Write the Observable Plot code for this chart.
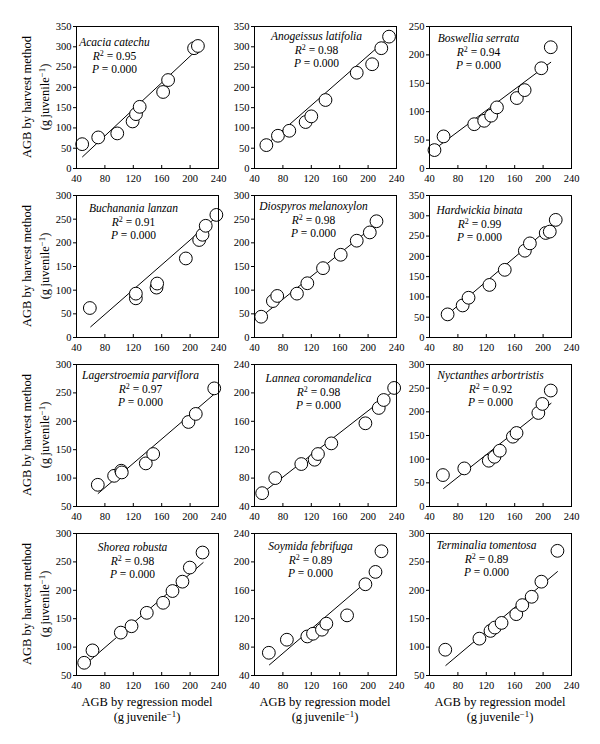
<!DOCTYPE html>
<html><head><meta charset="utf-8">
<script src="https://cdn.jsdelivr.net/npm/d3@7"></script>
<script src="https://cdn.jsdelivr.net/npm/@observablehq/plot@0.6"></script>
<style>
body{margin:0;background:#fff;}
#wrap{position:relative;width:600px;height:744px;font-family:"Liberation Serif","DejaVu Serif",serif;color:#000;overflow:hidden;}
.panel{position:absolute;}
.title{position:absolute;white-space:nowrap;font-size:12.5px;line-height:1;}
.sup{font-size:0.7em;position:relative;top:-0.45em;}
</style></head>
<body><div id="wrap"></div>
<script>
// ---- data ----
const species = ["Acacia catechu","Anogeissus latifolia","Boswellia serrata","Buchanania lanzan","Diospyros melanoxylon","Hardwickia binata","Lagerstroemia parviflora","Lannea coromandelica","Nyctanthes arbortristis","Shorea robusta","Soymida febrifuga","Terminalia tomentosa"];
const r2 = ["0.95","0.98","0.94","0.91","0.98","0.99","0.97","0.98","0.92","0.98","0.89","0.89"];
const pValue = "0.000";
// AGB by regression model (x)
const regressionModel = [
  [48,70.6,97.4,119,123.8,129,162,169,205.6,211],
  [56.7,73,89,112,120,140,184,205.7,218.6,229.5],
  [47,59.8,103,117,126.8,135,163,174,197.5,210.8],
  [58.8,123.6,123.6,152.7,153.6,194,212.8,217.5,222,237],
  [49.4,65.9,72,99.8,114.4,136.5,161.4,184,202.4,211.8],
  [65.5,86.7,95,124.4,146,174.3,181.4,203.7,209.4,217.8],
  [70,93,103,103.8,137.6,148,197.7,208,234],
  [50.8,69.2,105.9,124.7,129.4,148.2,196.2,215,222,236.7],
  [58.9,89,123.5,131.5,139,157.4,162.6,193.3,199,210.8],
  [50.8,62.5,102.4,117.5,139,162,175.2,189.2,199.6,217.5],
  [60.2,85.6,114.4,122.4,135,141.2,170.4,196.2,210.4,218.8],
  [62.2,110.3,125.9,132,141.5,162.2,170.7,183.9,197.6,220.2]
];
// AGB by harvest method (y)
const harvestMethod = [
  [60,76.6,86.5,116,134,152,188.6,218,296.5,302],
  [57.6,80.7,93,114.5,128.5,168.8,236,257,296.5,325],
  [32.4,56.5,78,84,93,107.6,124,138,176.5,213.5],
  [62.3,82.8,92.7,105.4,114,167,206,217,236,259],
  [43.9,77,87.8,92.7,114.6,146.5,174.8,204.5,222,245.6],
  [57,79,98,129.6,166.8,213.9,232,257.6,261,289.9],
  [88.2,104,113,110,125.9,142.4,198.8,213,258],
  [58.8,80,99.8,105.9,113.9,128.9,157.2,178.8,190,207],
  [66.4,80.5,96.7,105,117.9,147.5,155.3,197.6,216.7,245],
  [72.4,94.2,125.5,136.7,160.3,178,198.7,215.2,240,266.5],
  [72,90.4,95,98.8,104.5,113,124.7,168.5,185.9,215],
  [95.4,114.9,128.5,134.4,142.6,158,173.9,188.6,215.2,269.5]
];
// fitted line end points (x1, x2) and (y1, y2)
const fitX = [[48.5,208.5],[59,228.6],[47,210.8],[60,236.7],[49.4,211.8],[65.5,217.8],[70.5,236],[50.8,236.7],[59.8,211.2],[50.8,218.4],[61,200],[63,220.2]];
const fitY = [[28.8,290.7],[62,322],[34,187],[22.6,254],[43.9,240],[57,284],[73,250],[58.8,203.3],[38,218],[67.7,248.8],[55,174],[67.7,232.9]];
// axes
const xTicks = [40,80,120,160,200,240];
const yTicks = [
  [0,50,100,150,200,250,300,350],
  [0,50,100,150,200,250,300,350],
  [0,50,100,150,200,250],
  [0,50,100,150,200,250,300],
  [0,50,100,150,200,250,300],
  [0,50,100,150,200,250,300,350],
  [50,100,150,200,250,300],
  [40,80,120,160,200,240],
  [0,50,100,150,200,250,300],
  [50,100,150,200,250,300],
  [40,80,120,160,200,240],
  [50,100,150,200,250,300]
];
const yAxisTitle = "AGB by harvest method";
const xAxisTitle = "AGB by regression model";
const unitText = "(g\u2009juvenile<span class='sup'>\u22121</span>)";

// ---- layout ----
const colLeft = [76, 254, 429];
const rowTop = [26, 195, 364, 533];
const frameW = 142, frameH = 142;
const mL = 34, mR = 16, mT = 6, mB = 24;
const nameDx = [38,62,49,57,59,50,64,64,61,56,56,57];
const nameDy = [16,10,12,13,11,15,11,14,11,14,13,12];
const font = "'Liberation Serif','DejaVu Serif',serif";

const wrap = document.getElementById("wrap");

species.forEach((name, i) => {
  const col = i % 3, row = Math.floor(i / 3);
  const pts = regressionModel[i].map((x, j) => ({x, y: harvestMethod[i][j]}));
  const fit = fitX[i].map((x, j) => ({x, y: fitY[i][j]}));
  const yt = yTicks[i];
  const svg = Plot.plot({
    width: frameW + mL + mR,
    height: frameH + mT + mB,
    marginLeft: mL, marginRight: mR, marginTop: mT, marginBottom: mB,
    style: {fontFamily: font, fontSize: "10.5px", background: "transparent", overflow: "visible", color: "#000"},
    x: {domain: [40, 240]},
    y: {domain: [yt[0], yt[yt.length - 1]]},
    marks: [
      Plot.axisX({ticks: xTicks, tickSize: 0, tickPadding: 6, label: null, tickFormat: d => d}),
      Plot.axisY({ticks: yt, tickSize: 3, tickPadding: 2, label: null, tickFormat: d => d}),
      Plot.ruleX(xTicks.slice(1, -1), {insetTop: frameH - 3, stroke: "#000"}),
      Plot.line(fit, {x: "x", y: "y", stroke: "#000", strokeWidth: 1}),
      Plot.dot(pts, {x: "x", y: "y", r: 6.4, fill: "white", stroke: "#000", strokeWidth: 1}),
      Plot.frame({stroke: "#000", strokeWidth: 1}),
      Plot.text([name], {frameAnchor: "top-left", dx: nameDx[i], dy: nameDy[i], textAnchor: "middle", lineAnchor: "middle", fontStyle: "italic", fontSize: 11.5, fill: "#000"}),
      Plot.text([`R\u00b2 = ${r2[i]}`], {frameAnchor: "top-left", dx: nameDx[i], dy: nameDy[i] + 13.5, textAnchor: "middle", lineAnchor: "middle", fontSize: 11.5, fill: "#000"}),
      Plot.text([`P = ${pValue}`], {frameAnchor: "top-left", dx: nameDx[i], dy: nameDy[i] + 26.5, textAnchor: "middle", lineAnchor: "middle", fontSize: 11.5, fill: "#000"})
    ]
  });
  // italic R / P and superscript 2
  svg.querySelectorAll("text").forEach(t => {
    const s = t.textContent;
    const m = s.match(/^R\u00b2 = (.*)$/);
    const p = s.match(/^P = (.*)$/);
    const ns = "http://www.w3.org/2000/svg";
    if (m) {
      t.textContent = "";
      const a = document.createElementNS(ns, "tspan"); a.setAttribute("font-style", "italic"); a.textContent = "R";
      const b = document.createElementNS(ns, "tspan"); b.setAttribute("font-size", "8"); b.setAttribute("dy", "-4"); b.textContent = "2";
      const c = document.createElementNS(ns, "tspan"); c.setAttribute("dy", "4"); c.textContent = " = " + m[1];
      t.append(a, b, c);
    } else if (p) {
      t.textContent = "";
      const a = document.createElementNS(ns, "tspan"); a.setAttribute("font-style", "italic"); a.textContent = "P";
      const c = document.createElementNS(ns, "tspan"); c.textContent = " = " + p[1];
      t.append(a, c);
    }
  });
  svg.classList.add("panel");
  svg.style.left = (colLeft[col] - mL) + "px";
  svg.style.top = (rowTop[row] - mT) + "px";
  wrap.appendChild(svg);
});

// y axis titles (one per row)
rowTop.forEach(top => {
  const cy = top + frameH / 2;
  [[yAxisTitle, 27], [unitText, 45]].forEach(([txt, cx]) => {
    const d = document.createElement("div");
    d.className = "title";
    d.innerHTML = txt;
    d.style.left = cx + "px";
    d.style.top = cy + "px";
    d.style.transform = "translate(-50%,-50%) rotate(-90deg)";
    wrap.appendChild(d);
  });
});
// x axis titles (one per column)
colLeft.forEach(left => {
  const cx = left + frameW / 2;
  [[xAxisTitle, 702], [unitText, 717]].forEach(([txt, cy]) => {
    const d = document.createElement("div");
    d.className = "title";
    d.innerHTML = txt;
    d.style.left = cx + "px";
    d.style.top = cy + "px";
    d.style.transform = "translate(-50%,-50%)";
    wrap.appendChild(d);
  });
});
</script>
</body></html>
